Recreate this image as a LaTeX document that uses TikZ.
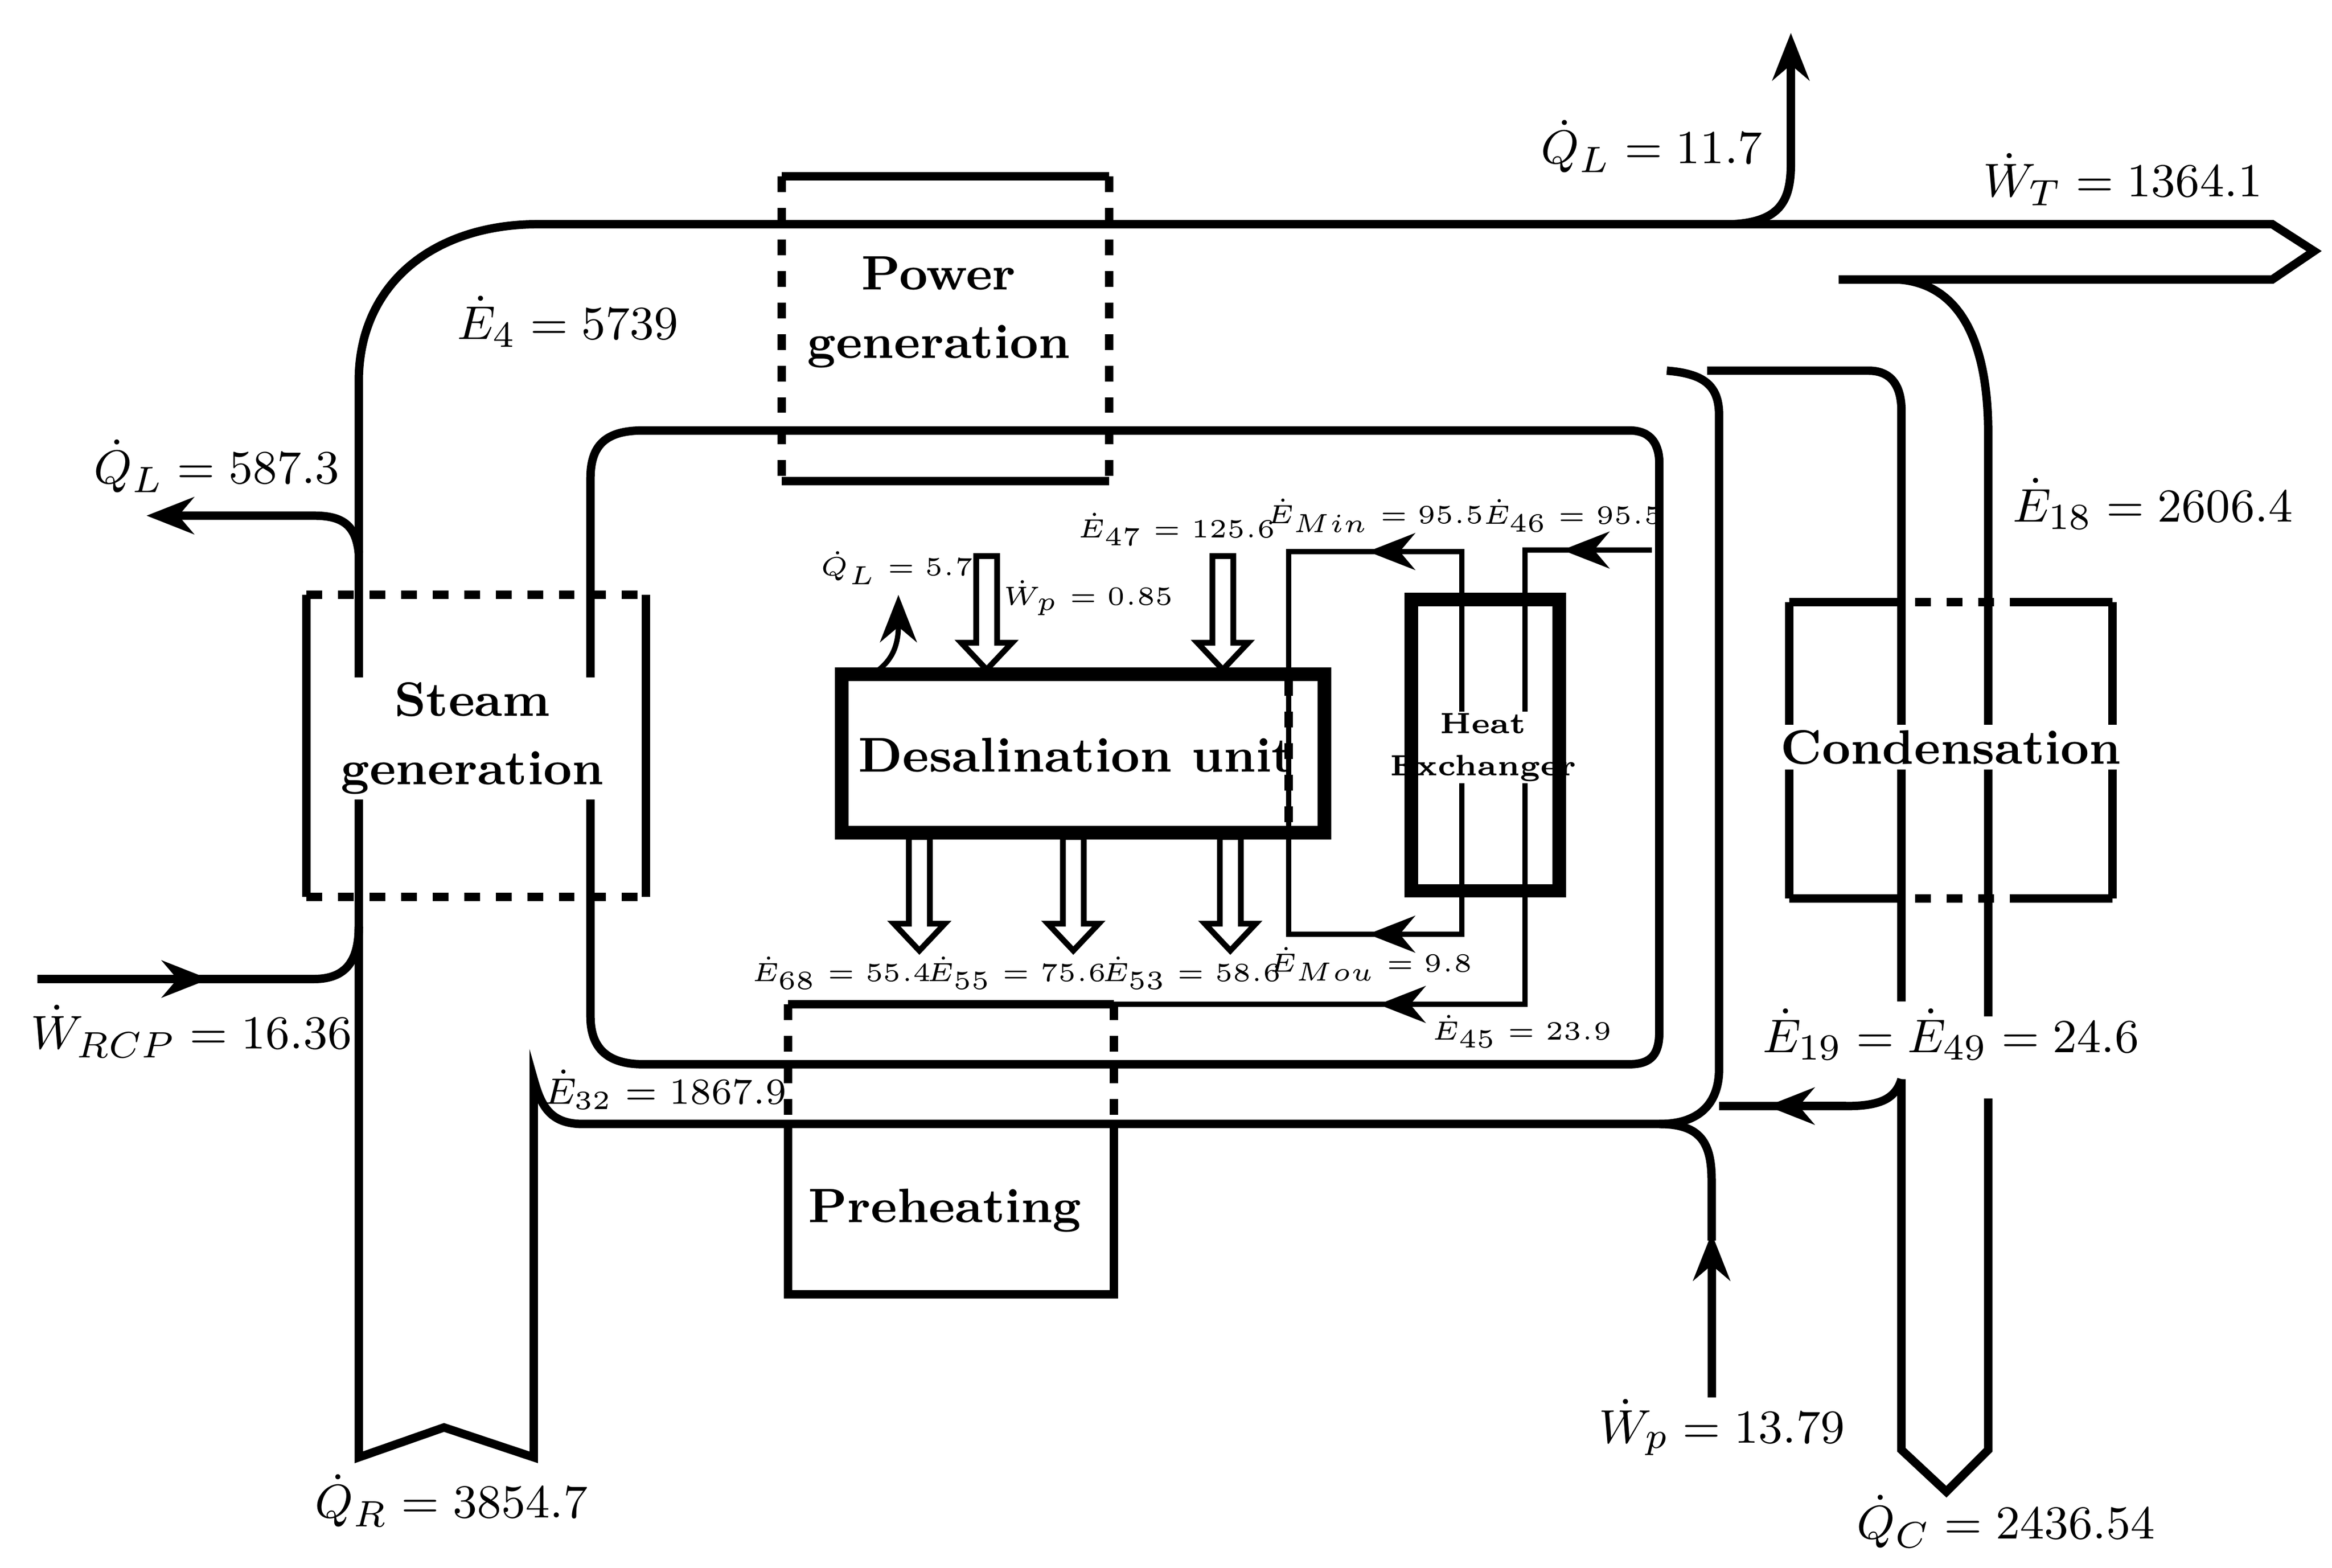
\documentclass[tikz,border=0pt]{standalone}
\usetikzlibrary{arrows.meta}
\begin{document}
\begin{tikzpicture}[x=0.01cm,y=-0.01cm,line width=1.6pt,
  big/.style={font=\fontsize{9.5}{11}\selectfont},
  sm/.style={font=\fontsize{5.2}{6}\selectfont,inner sep=0.5pt},
  lbl/.style={font=\fontsize{9.2}{11}\selectfont\bfseries,align=center},
  thin/.style={line width=1pt},
  arr/.style={-{Stealth[length=9pt,width=7pt]}},
  hol/.pic={\draw[line width=1.1pt,fill=white] (-7,0) -- (-7,58) -- (-17,58) -- (0,76) -- (17,58) -- (7,58) -- (7,0) -- cycle;}]
\useasboundingbox (0,0) rectangle (1560,1049);
% boxes
\draw (205,600) -- (205,398); \draw (432,398) -- (432,600);
\draw[dashed] (205,398) -- (432,398); \draw[dashed] (205,600) -- (432,600);
\draw (523,118) -- (742,118); \draw (523,322) -- (742,322);
\draw[dashed] (523,118) -- (523,322); \draw[dashed] (742,118) -- (742,322);
\draw (527,672) -- (745,672); \draw (527,750) -- (527,866) -- (745,866) -- (745,750);
\draw[dashed] (527,672) -- (527,750); \draw[dashed] (745,672) -- (745,750);
\draw (1197,403) -- (1197,601); \draw (1413,403) -- (1413,601);
\draw (1197,403) -- (1260,403); \draw (1345,403) -- (1413,403);
\draw (1197,601) -- (1260,601); \draw (1345,601) -- (1413,601);
\draw[dashed] (1260,403) -- (1345,403); \draw[dashed] (1260,601) -- (1345,601);
% desalination
\draw[line width=2.6pt] (563,451) rectangle (886,557);
\draw[dashed] (862,455) -- (862,553);
\node[font=\fontsize{9.3}{11}\selectfont\bfseries] (du) at (720,505) {Desalination unit};
\draw[line width=2.6pt] (944,401) rectangle (1043,596);
\node[font=\fontsize{5.6}{7}\selectfont\bfseries,align=center,inner sep=0.5pt] (hx) at (992,500) {Heat\\[1pt]Exchanger};
% hollow arrows
\foreach \x in {660,818} \pic at (\x,372) {hol};
\foreach \x in {615,718,823} \pic at (\x,560) {hol};
% Q_L 5.7
\draw[thin,arr] (588,448) .. controls (598,440) and (601,430) .. (601,398);
% heat exchanger loop
\draw[thin] (978,476) -- (978,369) -- (862,369) -- (862,625) -- (978,625) -- (978,524);
\draw[thin,arr] (978,369) -- (915,369);
\draw[thin,arr] (978,625) -- (915,625);
\draw[thin] (1105,368) -- (1020,368) -- (1020,476);
\draw[thin,arr] (1105,368) -- (1045,368);
\draw[thin] (1020,524) -- (1020,672) -- (745,672);
\draw[thin,arr] (1020,672) -- (922,672);
% outer loop
\draw (240,460) -- (240,255) .. controls (240,190) and (290,150) .. (360,150) -- (1520,150) -- (1548,168) -- (1520,187) -- (1230,187);
\draw[arr] (1160,150) .. controls (1190,148) and (1198,135) .. (1198,110) -- (1198,22);
\draw[arr] (240,370) .. controls (238,352) and (230,345) .. (210,345) -- (98,345);
% inner loop
\draw (395,460) -- (395,320) .. controls (395,298) and (405,288) .. (430,288) -- (1090,288) .. controls (1105,288) and (1110,298) .. (1110,310) -- (1110,690) .. controls (1110,705) and (1105,712) .. (1090,712) -- (430,712) .. controls (405,712) and (395,700) .. (395,680) -- (395,530);
% bottom left
\draw (240,530) -- (240,975) -- (297,955) -- (357,975) -- (357,722) .. controls (362,740) and (368,752) .. (390,752) -- (1110,752) .. controls (1140,752) and (1150,735) .. (1150,715) -- (1150,278) .. controls (1150,258) and (1140,250) .. (1115,248);
\draw (1142,248) -- (1250,248) .. controls (1265,248) and (1272,258) .. (1272,275) -- (1272,670);
\draw (1110,752) .. controls (1138,752) and (1145,765) .. (1145,790) -- (1145,830);
\draw[arr] (1145,935) -- (1145,825);
\draw (1150,740) -- (1235,740) .. controls (1258,740) and (1268,735) .. (1272,722);
\draw[arr] (1235,740) -- (1182,740);
\draw[arr] (25,655) -- (140,655);
\draw (130,655) -- (210,655) .. controls (232,655) and (240,642) .. (240,620);
% E18 pipe
\draw (1230,187) -- (1270,187) .. controls (1312,190) and (1330,230) .. (1330,290) -- (1330,680);
\draw (1330,735) -- (1330,970) -- (1302,998) -- (1272,970) -- (1272,722);
% box labels
\node[lbl,fill=white,inner sep=1pt] (sg) at (316,494) {Steam\\[2pt]generation};
\node[lbl,fill=white,inner sep=1pt] (pg) at (628,209) {Power\\[2pt]generation};
\node[lbl,fill=white,inner sep=1pt] (cd) at (1305,500) {Condensation};
\node[lbl,fill=white,inner sep=1pt] (ph) at (632,810) {Preheating};
% labels
\node[big] (l1) at (1105,98) {$\dot{Q}_L=11.7$};
\node[big] (l2) at (1420,120) {$\dot{W}_T=1364.1$};
\node[big] (l3) at (380,215) {$\dot{E}_4=5739$};
\node[big] (l4) at (145,312) {$\dot{Q}_L=587.3$};
\node[big] (l5) at (1440,337) {$\dot{E}_{18}=2606.4$};
\node[sm] (l6) at (787,354) {$\dot{E}_{47}=125.6$};
\node[sm] (l7) at (920,345) {$\dot{E}_{Min}=95.5$};
\node[sm] (l8) at (1052,345) {$\dot{E}_{46}=95.5$};
\node[sm] (l9) at (600,380) {$\dot{Q}_L=5.7$};
\node[sm] (l10) at (728,400) {$\dot{W}_p=0.85$};
\node[sm] (l11) at (563,651) {$\dot{E}_{68}=55.4$};
\node[sm] (l12) at (680,651) {$\dot{E}_{55}=75.6$};
\node[sm] (l13) at (797,651) {$\dot{E}_{53}=58.6$};
\node[sm] (l14) at (917,645) {$\dot{E}_{Mou}=9.8$};
\node[sm] (l15) at (1018,690) {$\dot{E}_{45}=23.9$};
\node[big] (l16) at (128,690) {$\dot{W}_{RCP}=16.36$};
\node[big] (l17) at (1305,692) {$\dot{E}_{19}=\dot{E}_{49}=24.6$};
\node[font=\fontsize{6.6}{8}\selectfont,inner sep=0.5pt] (l18) at (445,729) {$\dot{E}_{32}=1867.9$};
\node[big] (l19) at (1152,955) {$\dot{W}_p=13.79$};
\node[big] (l20) at (302,1004) {$\dot{Q}_R=3854.7$};
\node[big] (l21) at (1342,1018) {$\dot{Q}_C=2436.54$};
\end{tikzpicture}
\end{document}
